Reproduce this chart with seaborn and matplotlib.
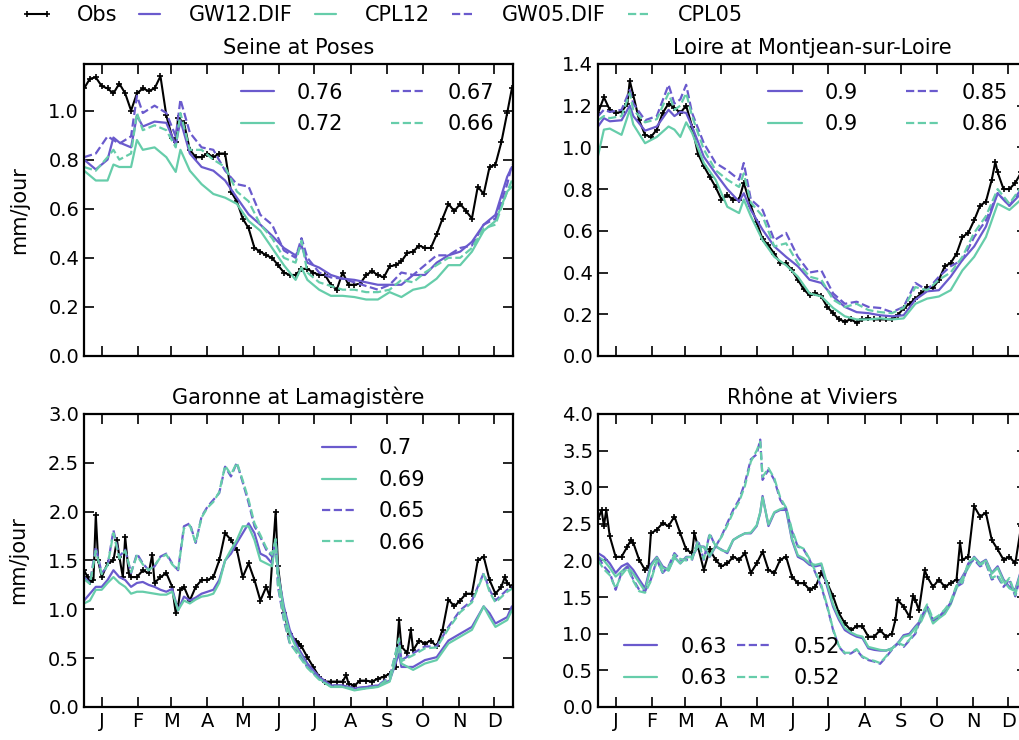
import numpy as np
import matplotlib
matplotlib.use('Agg')
import matplotlib.pyplot as plt
import seaborn as sns

# ---------------------------------------------------------
# Data (daily discharge, mm/jour)
# ---------------------------------------------------------
models = ['GW12.DIF', 'CPL12', 'GW05.DIF', 'CPL05']
month_labels = ['J', 'F', 'M', 'A', 'M', 'J', 'J', 'A', 'S', 'O', 'N', 'D']
month_mid = [15, 46, 74, 105, 135, 166, 196, 227, 258, 288, 319, 349]

# Seine at Poses
seine_obs_days = [0, 5, 10, 15, 20, 25, 30, 35, 40, 45, 50, 55, 60, 65, 70, 75, 78, 80, 85, 90,
                  95, 100, 105, 110, 115, 120, 125, 130, 135, 140, 145, 150, 155, 160, 165, 170,
                  175, 180, 185, 190, 195, 200, 205, 210, 215, 220, 225, 230, 235, 240, 245, 250,
                  255, 260, 265, 270, 275, 280, 285, 290, 295, 300, 305, 310, 315, 320, 325, 330,
                  335, 340, 345, 350, 355, 360, 364]
seine_obs = [1.09, 1.13, 1.135, 1.10, 1.09, 1.07, 1.11, 1.07, 1.0, 1.07, 1.09, 1.08, 1.09, 1.14,
             0.98, 0.89, 0.87, 0.97, 0.95, 0.84, 0.81, 0.81, 0.825, 0.81, 0.825, 0.825, 0.67,
             0.63, 0.56, 0.52, 0.44, 0.425, 0.41, 0.40, 0.37, 0.34, 0.33, 0.33, 0.355, 0.355,
             0.34, 0.33, 0.33, 0.29, 0.27, 0.34, 0.29, 0.29, 0.295, 0.33, 0.345, 0.33, 0.32,
             0.365, 0.37, 0.385, 0.42, 0.425, 0.45, 0.44, 0.44, 0.495, 0.56, 0.62, 0.59, 0.62,
             0.59, 0.56, 0.69, 0.66, 0.77, 0.78, 0.87, 0.99, 1.09]
seine_days = [0, 10, 20, 25, 30, 40, 45, 50, 60, 70, 78, 82, 90, 100, 110, 120, 130, 140, 150,
              160, 170, 180, 185, 190, 200, 210, 220, 230, 240, 250, 260, 270, 280, 290, 300,
              310, 320, 330, 340, 350, 360, 364]
seine_gw12 = [0.80, 0.76, 0.80, 0.89, 0.87, 0.85, 0.98, 0.935, 0.955, 0.95, 0.86, 0.96, 0.825,
              0.77, 0.755, 0.715, 0.645, 0.577, 0.535, 0.49, 0.44, 0.41, 0.45, 0.38, 0.36, 0.33,
              0.315, 0.31, 0.30, 0.29, 0.29, 0.29, 0.33, 0.33, 0.38, 0.41, 0.425, 0.465, 0.535,
              0.575, 0.73, 0.77]
seine_cpl12 = [0.755, 0.715, 0.715, 0.78, 0.77, 0.77, 0.88, 0.84, 0.85, 0.81, 0.75, 0.84, 0.755,
               0.70, 0.66, 0.645, 0.62, 0.55, 0.51, 0.44, 0.37, 0.31, 0.36, 0.31, 0.27, 0.245,
               0.245, 0.24, 0.23, 0.23, 0.26, 0.24, 0.27, 0.28, 0.315, 0.37, 0.37, 0.425, 0.51,
               0.55, 0.67, 0.69]
seine_gw05 = [0.81, 0.825, 0.895, 0.88, 0.865, 0.895, 1.06, 0.99, 1.02, 0.99, 0.895, 1.045, 0.91,
              0.85, 0.84, 0.755, 0.70, 0.69, 0.575, 0.535, 0.43, 0.40, 0.48, 0.40, 0.34, 0.32,
              0.315, 0.30, 0.285, 0.27, 0.29, 0.34, 0.33, 0.37, 0.41, 0.41, 0.44, 0.45, 0.535,
              0.56, 0.70, 0.78]
seine_cpl05 = [0.77, 0.755, 0.81, 0.84, 0.80, 0.825, 0.99, 0.92, 0.94, 0.92, 0.85, 0.99, 0.84,
               0.84, 0.80, 0.77, 0.67, 0.63, 0.535, 0.48, 0.40, 0.38, 0.47, 0.34, 0.30, 0.285,
               0.27, 0.27, 0.26, 0.26, 0.27, 0.31, 0.30, 0.34, 0.37, 0.40, 0.40, 0.44, 0.52,
               0.535, 0.67, 0.715]
seine_scores = ['0.76', '0.72', '0.67', '0.66']

# Loire at Montjean-sur-Loire
loire_obs_days = [0, 5, 10, 15, 20, 25, 27, 30, 35, 40, 45, 50, 55, 60, 65, 70, 75, 80, 85, 90,
                  95, 100, 105, 110, 115, 120, 124, 130, 135, 140, 145, 150, 155, 160, 165, 170,
                  175, 180, 185, 190, 195, 200, 205, 210, 215, 220, 225, 230, 235, 240, 245, 250,
                  255, 260, 265, 270, 275, 280, 285, 290, 295, 300, 305, 310, 315, 320, 325, 330,
                  335, 338, 340, 345, 350, 355, 360, 364]
loire_obs = [1.165, 1.24, 1.18, 1.165, 1.17, 1.21, 1.32, 1.25, 1.13, 1.06, 1.05, 1.085, 1.165,
             1.21, 1.19, 1.165, 1.20, 1.10, 0.97, 0.91, 0.86, 0.81, 0.75, 0.77, 0.75, 0.75, 0.83,
             0.72, 0.64, 0.56, 0.53, 0.49, 0.445, 0.445, 0.41, 0.365, 0.32, 0.29, 0.30, 0.285,
             0.235, 0.205, 0.175, 0.165, 0.175, 0.16, 0.175, 0.18, 0.175, 0.175, 0.175, 0.175,
             0.195, 0.23, 0.25, 0.275, 0.30, 0.33, 0.325, 0.365, 0.43, 0.445, 0.49, 0.57, 0.59,
             0.65, 0.72, 0.74, 0.845, 0.93, 0.88, 0.80, 0.80, 0.83, 0.88, 0.89]
loire_days = [0, 5, 10, 20, 27, 30, 40, 50, 60, 65, 70, 75, 80, 90, 100, 110, 120, 124, 130, 140,
              150, 160, 170, 180, 190, 200, 210, 220, 230, 240, 250, 260, 270, 280, 290, 300,
              310, 320, 330, 340, 345, 350, 360, 364]
loire_gw12 = [1.10, 1.14, 1.125, 1.13, 1.20, 1.15, 1.08, 1.10, 1.18, 1.15, 1.17, 1.165, 1.10,
              0.955, 0.875, 0.80, 0.74, 0.78, 0.70, 0.605, 0.525, 0.475, 0.43, 0.365, 0.35,
              0.285, 0.235, 0.21, 0.205, 0.195, 0.19, 0.195, 0.27, 0.31, 0.315, 0.38, 0.46,
              0.525, 0.62, 0.78, 0.75, 0.72, 0.78, 0.79]
loire_cpl12 = [0.96, 1.085, 1.09, 1.06, 1.18, 1.11, 1.02, 1.05, 1.10, 1.085, 1.05, 1.12, 1.07,
               0.925, 0.845, 0.715, 0.685, 0.75, 0.67, 0.555, 0.475, 0.435, 0.38, 0.30, 0.285,
               0.23, 0.19, 0.175, 0.175, 0.18, 0.175, 0.18, 0.25, 0.275, 0.285, 0.315, 0.41,
               0.475, 0.57, 0.73, 0.715, 0.70, 0.75, 0.76]
loire_gw05 = [1.15, 1.18, 1.17, 1.18, 1.275, 1.21, 1.13, 1.15, 1.30, 1.21, 1.23, 1.30, 1.165,
              1.02, 0.925, 0.89, 0.845, 0.925, 0.75, 0.70, 0.555, 0.59, 0.475, 0.40, 0.41, 0.30,
              0.25, 0.26, 0.235, 0.23, 0.21, 0.235, 0.35, 0.315, 0.38, 0.43, 0.46, 0.57, 0.65,
              0.78, 0.75, 0.72, 0.80, 0.82]
loire_cpl05 = [1.13, 1.15, 1.14, 1.15, 1.26, 1.18, 1.12, 1.135, 1.26, 1.18, 1.20, 1.26, 1.15,
               0.99, 0.89, 0.845, 0.81, 0.875, 0.735, 0.67, 0.525, 0.54, 0.445, 0.38, 0.365,
               0.27, 0.235, 0.25, 0.22, 0.21, 0.205, 0.23, 0.33, 0.315, 0.365, 0.40, 0.475,
               0.59, 0.67, 0.80, 0.765, 0.73, 0.81, 0.83]
loire_scores = ['0.9', '0.9', '0.85', '0.86']

# Garonne at Lamagistère
garonne_obs_days = [0, 3, 5, 8, 10, 12, 15, 20, 25, 28, 30, 33, 35, 38, 40, 45, 50, 55, 58, 60,
                    65, 70, 75, 78, 80, 82, 85, 90, 95, 100, 105, 110, 115, 120, 125, 130, 135,
                    140, 145, 150, 155, 158, 163, 165, 170, 175, 180, 183, 185, 190, 195, 200,
                    205, 210, 215, 220, 223, 225, 230, 235, 240, 245, 250, 255, 260, 265, 268,
                    270, 275, 278, 280, 285, 290, 295, 300, 305, 310, 315, 320, 325, 330, 335,
                    340, 345, 350, 355, 358, 360, 364]
garonne_obs = [1.40, 1.33, 1.28, 1.30, 1.97, 1.50, 1.33, 1.47, 1.50, 1.71, 1.54, 1.33, 1.74, 1.37,
               1.33, 1.33, 1.40, 1.37, 1.56, 1.27, 1.33, 1.37, 1.23, 0.96, 1.03, 1.20, 1.23,
               1.09, 1.23, 1.30, 1.30, 1.33, 1.50, 1.78, 1.71, 1.61, 1.33, 1.47, 1.30, 1.09,
               1.23, 1.13, 2.00, 1.44, 0.96, 0.75, 0.68, 0.65, 0.62, 0.51, 0.41, 0.31, 0.26,
               0.26, 0.26, 0.26, 0.325, 0.24, 0.22, 0.27, 0.27, 0.26, 0.29, 0.31, 0.34, 0.41,
               0.89, 0.62, 0.55, 0.79, 0.58, 0.68, 0.65, 0.68, 0.62, 0.79, 1.10, 1.03, 1.09, 1.16,
               1.16, 1.50, 1.54, 1.30, 1.16, 1.23, 1.33, 1.27, 1.23]
garonne_days = [0, 5, 10, 15, 20, 25, 30, 35, 40, 45, 50, 55, 60, 65, 70, 75, 80, 85, 90, 95,
                100, 105, 110, 115, 120, 125, 130, 135, 140, 145, 150, 155, 160, 163, 165, 170,
                175, 180, 190, 200, 210, 220, 230, 240, 250, 260, 268, 270, 280, 290, 300, 310,
                320, 330, 340, 345, 350, 360, 364]
garonne_gw12 = [1.09, 1.16, 1.23, 1.23, 1.30, 1.40, 1.33, 1.30, 1.23, 1.27, 1.28, 1.25, 1.23,
                1.20, 1.18, 1.21, 0.99, 1.13, 1.09, 1.12, 1.16, 1.18, 1.20, 1.30, 1.50, 1.57,
                1.68, 1.78, 1.88, 1.78, 1.57, 1.54, 1.47, 1.71, 1.37, 1.03, 0.79, 0.65, 0.445,
                0.31, 0.22, 0.22, 0.19, 0.205, 0.22, 0.27, 0.55, 0.41, 0.41, 0.48, 0.51, 0.68,
                0.75, 0.82, 1.03, 0.96, 0.855, 0.92, 1.03]
garonne_cpl12 = [1.06, 1.09, 1.20, 1.20, 1.27, 1.33, 1.27, 1.23, 1.16, 1.18, 1.18, 1.17, 1.16,
                 1.15, 1.15, 1.18, 0.99, 1.09, 1.06, 1.10, 1.13, 1.14, 1.16, 1.27, 1.50, 1.61,
                 1.71, 1.85, 1.85, 1.71, 1.50, 1.47, 1.44, 1.71, 1.37, 0.99, 0.75, 0.62, 0.41,
                 0.29, 0.205, 0.205, 0.17, 0.19, 0.205, 0.26, 0.62, 0.445, 0.38, 0.445, 0.48,
                 0.65, 0.72, 0.79, 1.03, 0.92, 0.82, 0.89, 0.99]
garonne_gw05 = [1.33, 1.27, 1.64, 1.37, 1.44, 1.81, 1.54, 1.61, 1.37, 1.57, 1.47, 1.40, 1.44,
                1.54, 1.57, 1.47, 1.40, 1.85, 1.88, 1.68, 1.95, 2.05, 2.12, 2.19, 2.46, 2.36,
                2.50, 2.30, 2.09, 1.85, 1.74, 1.61, 1.54, 1.71, 1.23, 0.89, 0.65, 0.58, 0.41,
                0.29, 0.22, 0.22, 0.19, 0.205, 0.22, 0.31, 0.68, 0.48, 0.55, 0.62, 0.62, 0.82,
                0.99, 1.09, 1.37, 1.20, 1.09, 1.20, 1.23]
garonne_cpl05 = [1.31, 1.26, 1.60, 1.36, 1.45, 1.78, 1.52, 1.60, 1.38, 1.55, 1.46, 1.40, 1.45,
                 1.53, 1.56, 1.46, 1.40, 1.83, 1.86, 1.68, 1.94, 2.04, 2.10, 2.20, 2.47, 2.38,
                 2.50, 2.32, 2.12, 1.88, 1.76, 1.63, 1.56, 1.72, 1.25, 0.91, 0.66, 0.57, 0.40,
                 0.28, 0.21, 0.21, 0.18, 0.19, 0.21, 0.30, 0.70, 0.47, 0.53, 0.60, 0.61, 0.80,
                 0.97, 1.07, 1.36, 1.18, 1.07, 1.18, 1.21]
garonne_scores = ['0.7', '0.69', '0.65', '0.66']

# Rhône at Viviers
rhone_obs_days = [0, 3, 5, 7, 10, 15, 20, 25, 28, 30, 35, 40, 43, 45, 50, 55, 60, 65, 70, 75, 80,
                  82, 85, 90, 95, 100, 105, 110, 115, 120, 125, 130, 135, 140, 145, 150, 155,
                  160, 165, 170, 175, 180, 185, 190, 195, 200, 205, 210, 215, 220, 225, 230,
                  235, 240, 245, 250, 253, 255, 260, 265, 268, 270, 273, 278, 280, 285, 290,
                  295, 300, 305, 308, 310, 315, 320, 325, 330, 335, 340, 345, 350, 355, 360, 364]
rhone_obs = [2.56, 2.69, 2.47, 2.69, 2.33, 2.05, 2.05, 2.19, 2.28, 2.24, 2.01, 1.87, 1.92, 2.37,
             2.42, 2.51, 2.47, 2.60, 2.37, 2.15, 2.10, 2.37, 2.19, 1.87, 2.15, 2.01, 1.92, 1.96,
             2.05, 2.01, 2.10, 1.83, 1.96, 2.12, 1.87, 1.83, 2.01, 2.05, 1.78, 1.69, 1.69, 1.60,
             1.64, 1.83, 1.69, 1.51, 1.28, 1.14, 1.05, 1.10, 1.10, 0.96, 0.96, 1.05, 0.96, 1.00,
             1.19, 1.46, 1.37, 1.23, 1.51, 1.46, 1.32, 1.87, 1.78, 1.64, 1.74, 1.64, 1.69, 1.74,
             2.24, 2.01, 2.05, 2.74, 2.60, 2.65, 2.28, 2.15, 2.01, 2.05, 1.96, 2.47, 2.56]
rhone_days = [0, 5, 10, 15, 20, 25, 30, 35, 40, 45, 50, 55, 60, 65, 70, 75, 80, 85, 90, 95, 100,
              105, 110, 115, 120, 125, 130, 135, 138, 140, 145, 150, 155, 160, 165, 170, 175,
              180, 185, 190, 195, 200, 205, 210, 215, 220, 225, 230, 235, 240, 245, 250, 255,
              260, 265, 270, 275, 280, 285, 290, 295, 300, 305, 310, 315, 320, 325, 330, 335,
              340, 345, 350, 355, 360, 364]
rhone_gw12 = [2.10, 2.05, 1.96, 1.83, 1.92, 1.96, 1.87, 1.74, 1.62, 1.95, 2.05, 1.92, 1.87, 2.05,
              1.96, 2.05, 2.05, 2.19, 2.19, 2.05, 2.19, 2.15, 2.10, 2.28, 2.33, 2.37, 2.37, 2.47,
              2.65, 2.88, 2.47, 2.65, 2.69, 2.69, 2.28, 2.05, 2.01, 1.94, 1.92, 1.94, 1.64,
              1.37, 1.19, 1.05, 1.00, 0.96, 0.94, 0.80, 0.78, 0.77, 0.77, 0.80, 0.87, 0.98,
              1.00, 1.10, 1.19, 1.37, 1.16, 1.23, 1.28, 1.42, 1.64, 1.78, 1.92, 2.05, 1.96,
              2.01, 1.83, 1.92, 1.74, 1.64, 1.60, 1.87, 1.92]
rhone_cpl12 = [2.05, 2.00, 1.90, 1.78, 1.85, 1.92, 1.82, 1.70, 1.58, 1.92, 2.04, 1.90, 1.86, 2.04,
               1.96, 2.04, 2.05, 2.20, 2.18, 2.06, 2.20, 2.14, 2.12, 2.28, 2.33, 2.37, 2.38,
               2.48, 2.66, 2.86, 2.49, 2.66, 2.70, 2.72, 2.30, 2.07, 2.03, 1.96, 1.94, 1.96,
               1.68, 1.40, 1.22, 1.08, 1.02, 0.98, 0.96, 0.82, 0.80, 0.78, 0.77, 0.80, 0.86,
               0.96, 0.98, 1.08, 1.17, 1.35, 1.14, 1.21, 1.27, 1.40, 1.62, 1.76, 1.90, 2.04,
               1.95, 2.00, 1.82, 1.90, 1.72, 1.62, 1.58, 1.85, 1.90]
rhone_gw05 = [2.05, 1.92, 1.83, 1.60, 1.83, 1.92, 1.74, 1.60, 1.58, 1.74, 2.01, 1.83, 1.92, 2.10,
              2.01, 2.01, 2.01, 2.28, 2.01, 2.37, 2.19, 2.33, 2.51, 2.69, 2.83, 3.06, 3.38, 3.45,
              3.65, 3.10, 3.24, 3.10, 2.83, 2.70, 2.40, 2.19, 2.15, 2.01, 1.83, 1.64, 1.37, 1.05,
              0.82, 0.73, 0.73, 0.78, 0.68, 0.64, 0.62, 0.59, 0.68, 0.78, 0.87, 0.82, 0.91, 1.00,
              1.23, 1.37, 1.19, 1.23, 1.32, 1.42, 1.64, 1.69, 1.96, 2.01, 1.92, 1.96, 1.74, 1.78,
              1.64, 1.74, 1.51, 1.83, 1.92]
rhone_cpl05 = [2.00, 1.88, 1.80, 1.62, 1.80, 1.90, 1.72, 1.58, 1.56, 1.72, 2.00, 1.84, 1.90, 2.08,
               2.02, 2.00, 2.02, 2.26, 2.02, 2.35, 2.20, 2.32, 2.48, 2.66, 2.80, 3.02, 3.35,
               3.50, 3.62, 3.14, 3.26, 3.12, 2.86, 2.72, 2.42, 2.20, 2.16, 2.02, 1.85, 1.66,
               1.38, 1.06, 0.83, 0.74, 0.74, 0.79, 0.69, 0.65, 0.63, 0.60, 0.69, 0.79, 0.88,
               0.84, 0.92, 1.02, 1.25, 1.40, 1.20, 1.25, 1.33, 1.44, 1.66, 1.70, 1.98, 2.03,
               1.94, 1.98, 1.76, 1.80, 1.66, 1.76, 1.53, 1.85, 1.94]
rhone_scores = ['0.63', '0.63', '0.52', '0.52']

# ---------------------------------------------------------
# Style
# ---------------------------------------------------------
sns.set_style('ticks')
plt.rcParams.update({
    'font.family': ['DejaVu Sans'],
    'text.color': 'black', 'axes.labelcolor': 'black',
    'xtick.direction': 'in', 'ytick.direction': 'in',
    'xtick.top': True, 'ytick.right': True,
    'xtick.major.size': 7, 'ytick.major.size': 7,
    'xtick.major.width': 1.2, 'ytick.major.width': 1.2,
    'xtick.labelsize': 14, 'ytick.labelsize': 14,
    'axes.linewidth': 1.6, 'axes.edgecolor': 'black',
    'xtick.color': 'black', 'ytick.color': 'black',
    'axes.titlesize': 15, 'axes.labelsize': 15,
    'legend.fontsize': 15,
})

gw_color = '#6a5acd'
cpl_color = '#66cdaa'
colors = [gw_color, cpl_color, gw_color, cpl_color]
styles = ['-', '-', '--', '--']

fig = plt.figure(figsize=(10.2, 7.4), dpi=100)
ax_seine = fig.add_axes([0.0824, 0.519, 0.4206, 0.3946])
ax_loire = fig.add_axes([0.5863, 0.519, 0.4206, 0.3946])
ax_garonne = fig.add_axes([0.0824, 0.0446, 0.4206, 0.396])
ax_rhone = fig.add_axes([0.5863, 0.0446, 0.4206, 0.396])


def draw_panel(ax, obs_days, obs, days, series, title, ymax, yticks, bottom_row):
    sns.lineplot(x=obs_days, y=obs, ax=ax, color='black', linewidth=1.5,
                 marker='+', markersize=5, markeredgewidth=1.2, markeredgecolor='black')
    handles = []
    for vals, col, ls in zip(series, colors, styles):
        sns.lineplot(x=days, y=vals, ax=ax, color=col, linewidth=1.6, linestyle=ls)
        handles.append(ax.lines[-1])
    ax.set_xlim(0, 365)
    ax.set_ylim(0, ymax)
    ax.set_yticks(yticks)
    ax.set_xticks(month_mid)
    if bottom_row:
        ax.set_xticklabels(month_labels)
    else:
        ax.set_xticklabels([])
    ax.set_xlabel('')
    ax.set_ylabel('')
    ax.set_title(title, pad=7)
    return handles


leg_kw = dict(frameon=False, handlelength=1.6, handletextpad=1.1, labelspacing=0.55)

h = draw_panel(ax_seine, seine_obs_days, seine_obs, seine_days,
               [seine_gw12, seine_cpl12, seine_gw05, seine_cpl05],
               'Seine at Poses', 1.19, np.arange(0, 1.01, 0.2), False)
ax_seine.legend(h, seine_scores, ncol=2, loc='upper right', columnspacing=2.3, **leg_kw)
ax_seine.set_ylabel('mm/jour', labelpad=14)
ax_seine.set_yticklabels(['0.0', '0.2', '0.4', '0.6', '0.8', '1.0'])

h = draw_panel(ax_loire, loire_obs_days, loire_obs, loire_days,
               [loire_gw12, loire_cpl12, loire_gw05, loire_cpl05],
               'Loire at Montjean-sur-Loire', 1.4, np.arange(0, 1.41, 0.2), False)
ax_loire.legend(h, loire_scores, ncol=2, loc='upper right', columnspacing=2.3, **leg_kw)
ax_loire.set_yticklabels(['0.0', '0.2', '0.4', '0.6', '0.8', '1.0', '1.2', '1.4'])

h = draw_panel(ax_garonne, garonne_obs_days, garonne_obs, garonne_days,
               [garonne_gw12, garonne_cpl12, garonne_gw05, garonne_cpl05],
               'Garonne at Lamagistère', 3.0, np.arange(0, 3.01, 0.5), True)
ax_garonne.legend(h, garonne_scores, ncol=1, loc='upper left', bbox_to_anchor=(0.536, 0.945),
                  borderaxespad=0, **leg_kw)
ax_garonne.set_ylabel('mm/jour', labelpad=14)
ax_garonne.set_yticklabels(['0.0', '0.5', '1.0', '1.5', '2.0', '2.5', '3.0'])

h = draw_panel(ax_rhone, rhone_obs_days, rhone_obs, rhone_days,
               [rhone_gw12, rhone_cpl12, rhone_gw05, rhone_cpl05],
               'Rhône at Viviers', 4.0, np.arange(0, 4.01, 0.5), True)
ax_rhone.legend(h, rhone_scores, ncol=2, loc='lower left', bbox_to_anchor=(0.017, 0.0),
                columnspacing=0.5, **leg_kw)
ax_rhone.set_yticklabels(['0.0', '0.5', '1.0', '1.5', '2.0', '2.5', '3.0', '3.5', '4.0'])

# Figure-level legend with series names
obs_handle = ax_seine.lines[0]
fig_handles = [obs_handle] + h
fig.legend(fig_handles, ['Obs'] + models, ncol=5, loc='center left',
           bbox_to_anchor=(0.02, 0.98), frameon=False, borderpad=0, borderaxespad=0,
           handlelength=1.6, handletextpad=1.1, columnspacing=0.75, numpoints=2)

fig.savefig('out.png', dpi=100)
